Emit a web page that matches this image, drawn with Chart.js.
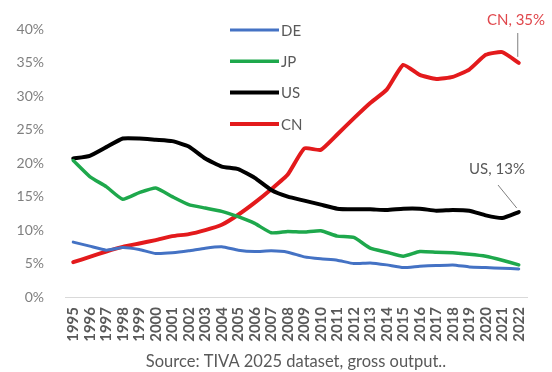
<!DOCTYPE html>
<html>
<head>
<meta charset="utf-8">
<script src="https://cdn.jsdelivr.net/npm/chart.js@4.4.1/dist/chart.umd.min.js"></script>
<style>
  html, body { margin: 0; padding: 0; background: #fff; }
  #wrap { width: 552px; height: 372px; position: relative; }
</style>
</head>
<body>
<div id="wrap"><canvas id="chart"></canvas></div>
<script>
const years = ['1995','1996','1997','1998','1999','2000','2001','2002','2003','2004','2005','2006','2007','2008',
  '2009','2010','2011','2012','2013','2014','2015','2016','2017','2018','2019','2020','2021','2022'];

const deShare = [8.2,7.6,7.0,7.4,7.1,6.5,6.6,6.9,7.3,7.5,7.0,6.8,6.9,6.7,6.0,5.7,5.5,5.0,5.1,4.8,4.4,4.6,4.7,4.8,4.5,4.4,4.3,4.2];
const jpShare = [20.4,18.0,16.5,14.6,15.6,16.3,15.0,13.8,13.3,12.8,12.0,11.0,9.6,9.8,9.7,9.9,9.1,8.9,7.3,6.7,6.1,6.8,6.7,6.6,6.4,6.1,5.5,4.8];
const usShare = [20.7,21.1,22.4,23.7,23.7,23.5,23.3,22.5,20.7,19.5,19.1,17.8,16.0,15.0,14.4,13.8,13.2,13.1,13.1,13.0,13.2,13.2,12.9,13.0,12.9,12.2,11.8,12.7];
const cnShare = [5.2,6.0,6.8,7.5,8.0,8.5,9.1,9.4,10.0,10.8,12.3,14.1,16.1,18.3,22.2,22.0,24.3,26.7,29.0,31.0,34.7,33.2,32.6,32.9,34.0,36.2,36.6,35.0];

const yTicks = [0,5,10,15,20,25,30,35,40];
const sourceNote = 'Source: TIVA 2025 dataset, gross output..';

const series = [
  { label: 'DE', data: deShare, color: '#4472c4', width: 3 },
  { label: 'JP', data: jpShare, color: '#1ea84c', width: 3.5 },
  { label: 'US', data: usShare, color: '#000000', width: 4 },
  { label: 'CN', data: cnShare, color: '#e31a1c', width: 4 },
];

const FONT = 'Lato, "Open Sans", sans-serif';
const GREY = '#595959';

// legend, end-point call-outs and the source line
const overlay = {
  id: 'overlay',
  afterDatasetsDraw(chart) {
    const ctx = chart.ctx;
    const x = chart.scales.x, y = chart.scales.y;
    ctx.save();

    // legend stacked inside the plot
    ctx.font = '15px ' + FONT;
    ctx.textBaseline = 'middle';
    chart.data.datasets.forEach((ds, i) => {
      const ly = 30 + i * 31.3;
      ctx.strokeStyle = ds.borderColor;
      ctx.lineWidth = ds.borderWidth;
      ctx.beginPath();
      ctx.moveTo(230, ly);
      ctx.lineTo(279, ly);
      ctx.stroke();
      ctx.fillStyle = GREY;
      ctx.textAlign = 'left';
      ctx.fillText(ds.label, 281, ly + 1);
    });

    const last = years.length - 1;
    const px = x.getPixelForValue(last);

    // CN call-out
    const cnY = y.getPixelForValue(cnShare[last]);
    ctx.strokeStyle = '#7f7f7f';
    ctx.lineWidth = 1;
    ctx.beginPath();
    ctx.moveTo(px - 1, 33);
    ctx.lineTo(px - 1, cnY - 6);
    ctx.stroke();
    ctx.fillStyle = '#e0474c';
    ctx.textAlign = 'center';
    ctx.font = '15px ' + FONT;
    ctx.fillText('CN, ' + Math.round(cnShare[last]) + '%', 516, 20);

    // US call-out
    const usY = y.getPixelForValue(usShare[last]);
    ctx.beginPath();
    ctx.moveTo(498, 185);
    ctx.lineTo(px - 2, usY - 4);
    ctx.stroke();
    ctx.fillStyle = GREY;
    ctx.fillText('US, ' + Math.round(usShare[last]) + '%', 497, 169);

    // source line
    ctx.font = '16.5px ' + FONT;
    ctx.fillStyle = GREY;
    ctx.fillText(sourceNote, 296, 362);
    ctx.restore();
  }
};

new Chart(document.getElementById('chart'), {
  type: 'line',
  data: {
    labels: years,
    datasets: series.map((s) => ({
      label: s.label,
      data: s.data,
      borderColor: s.color,
      backgroundColor: s.color,
      borderWidth: s.width,
      pointRadius: 0,
      tension: 0.15,
      borderJoinStyle: 'round',
      borderCapStyle: 'round',
    })),
  },
  options: {
    responsive: true,
    maintainAspectRatio: false,
    animation: false,
    layout: { padding: { top: 22, right: 25, bottom: 20, left: 0 } },
    plugins: {
      legend: { display: false },
      tooltip: { enabled: false },
    },
    scales: {
      x: {
        offset: true,
        grid: { display: false, drawTicks: false },
        border: { display: true, color: '#d9d9d9', width: 1 },
        ticks: {
          autoSkip: false,
          maxRotation: 90,
          minRotation: 90,
          padding: 10,
          color: '#595959',
          font: { family: FONT, size: 15, weight: 'bold' },
        },
        afterFit(scale) { scale.height = 55; },
      },
      y: {
        min: 0,
        max: 40,
        grid: { display: false, drawTicks: false },
        border: { display: false },
        afterBuildTicks(scale) { scale.ticks = yTicks.map((v) => ({ value: v })); },
        ticks: {
          padding: 21,
          color: '#7f7f7f',
          font: { family: FONT, size: 14 },
          callback: (v) => v + '%',
        },
        afterFit(scale) { scale.width = 65; },
      },
    },
  },
  plugins: [overlay],
});
</script>
</body>
</html>
